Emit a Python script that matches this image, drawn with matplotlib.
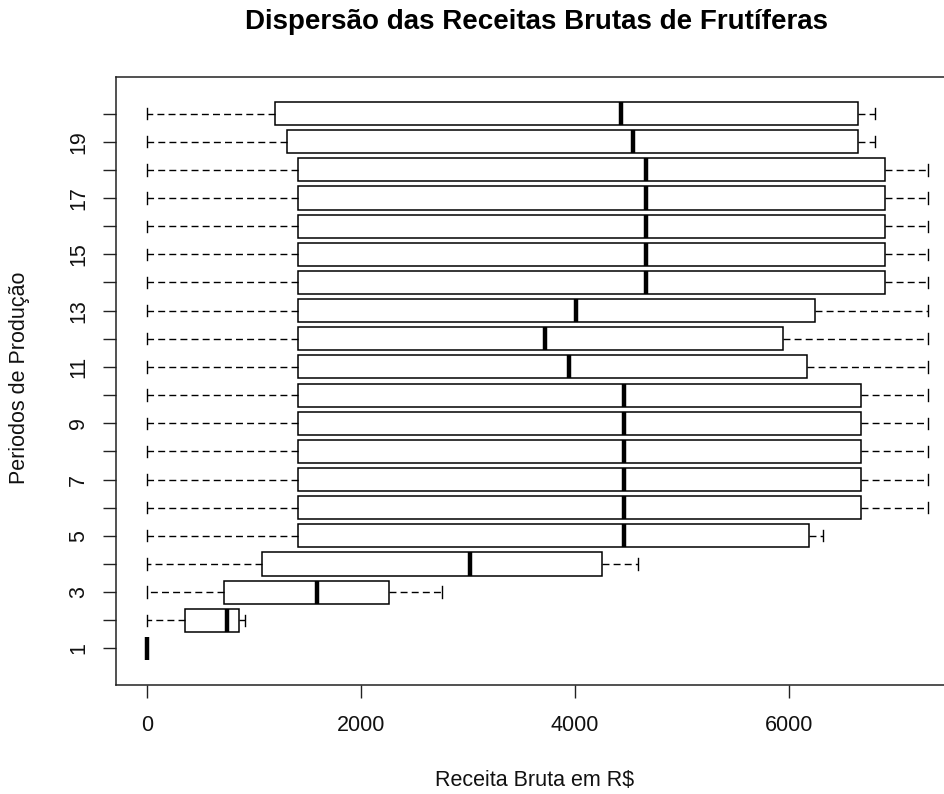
import matplotlib
matplotlib.use("Agg")
import matplotlib.pyplot as plt

plt.rcParams['font.family'] = ['Liberation Sans', 'DejaVu Sans']

# Periodos de producao 1..20 e estatisticas das receitas (R$)
periodos = list(range(1, 21))
whisker_min = [0] * 20
q1 = [0, 356, 718, 1070, 1414, 1414, 1414, 1414, 1414, 1414,
      1414, 1414, 1414, 1414, 1414, 1414, 1414, 1414, 1312, 1191]
mediana = [0, 743, 1584, 3017, 4459, 4459, 4459, 4459, 4459, 4459,
           3949, 3717, 4015, 4670, 4670, 4670, 4670, 4670, 4544, 4434]
q3 = [0, 854, 2259, 4251, 6193, 6677, 6677, 6677, 6677, 6677,
      6175, 5950, 6249, 6899, 6899, 6899, 6899, 6899, 6651, 6651]
whisker_max = [0, 919, 2759, 4595, 6319, 7302, 7302, 7302, 7302, 7302,
               7302, 7302, 7302, 7302, 7302, 7302, 7302, 7302, 6810, 6810]

stats = []
for i, p in enumerate(periodos):
    stats.append({
        'label': str(p),
        'whislo': whisker_min[i],
        'q1': q1[i],
        'med': mediana[i],
        'q3': q3[i],
        'whishi': whisker_max[i],
        'fliers': [],
    })

fig = plt.figure(figsize=(9.45, 7.94), dpi=100)
ax = fig.add_axes([116 / 945, 109 / 794, 843 / 945, 608 / 794])

ax.bxp(stats, positions=periodos, vert=False, widths=0.82, capwidths=0.4,
       showfliers=False, patch_artist=True,
       boxprops=dict(facecolor='white', edgecolor='black', linewidth=1.1),
       medianprops=dict(color='black', linewidth=3.2, solid_capstyle='butt'),
       whiskerprops=dict(color='black', linewidth=1.0, linestyle=(0, (5, 3))),
       capprops=dict(color='black', linewidth=1.0))

# faixa de eixos no estilo R (extensao de 4%)
xmax = max(whisker_max)
ax.set_xlim(-0.04 * xmax, 1.04 * xmax)
ax.set_ylim(-0.3, 21.3)

ax.set_xticks([0, 2000, 4000, 6000])
ax.set_xticklabels(['0', '2000', '4000', '6000'])
ax.set_yticks(periodos)
ax.set_yticklabels([str(p) if p % 2 == 1 else '' for p in periodos],
                   rotation=90, va='center')

ax.tick_params(axis='both', direction='out', length=9.5, width=1.0,
               labelsize=15.5, color='#222222', labelcolor='#111111')
ax.tick_params(axis='x', pad=12)
ax.tick_params(axis='y', pad=10)

for s in ax.spines.values():
    s.set_linewidth(1.1)
    s.set_color('#222222')

fig.text(537 / 945, 1 - 22 / 794, 'Dispersão das Receitas Brutas de Frutíferas',
         ha='center', va='center', fontsize=20, fontweight='bold')
fig.text(535 / 945, 1 - 780 / 794, 'Receita Bruta em R$',
         ha='center', va='center', fontsize=15.5, color='#111111')
fig.text(20 / 945, 1 - 378 / 794, 'Periodos de Produção',
         ha='center', va='center', fontsize=15.5, rotation=90, color='#111111')

fig.savefig('out.png', dpi=100)
